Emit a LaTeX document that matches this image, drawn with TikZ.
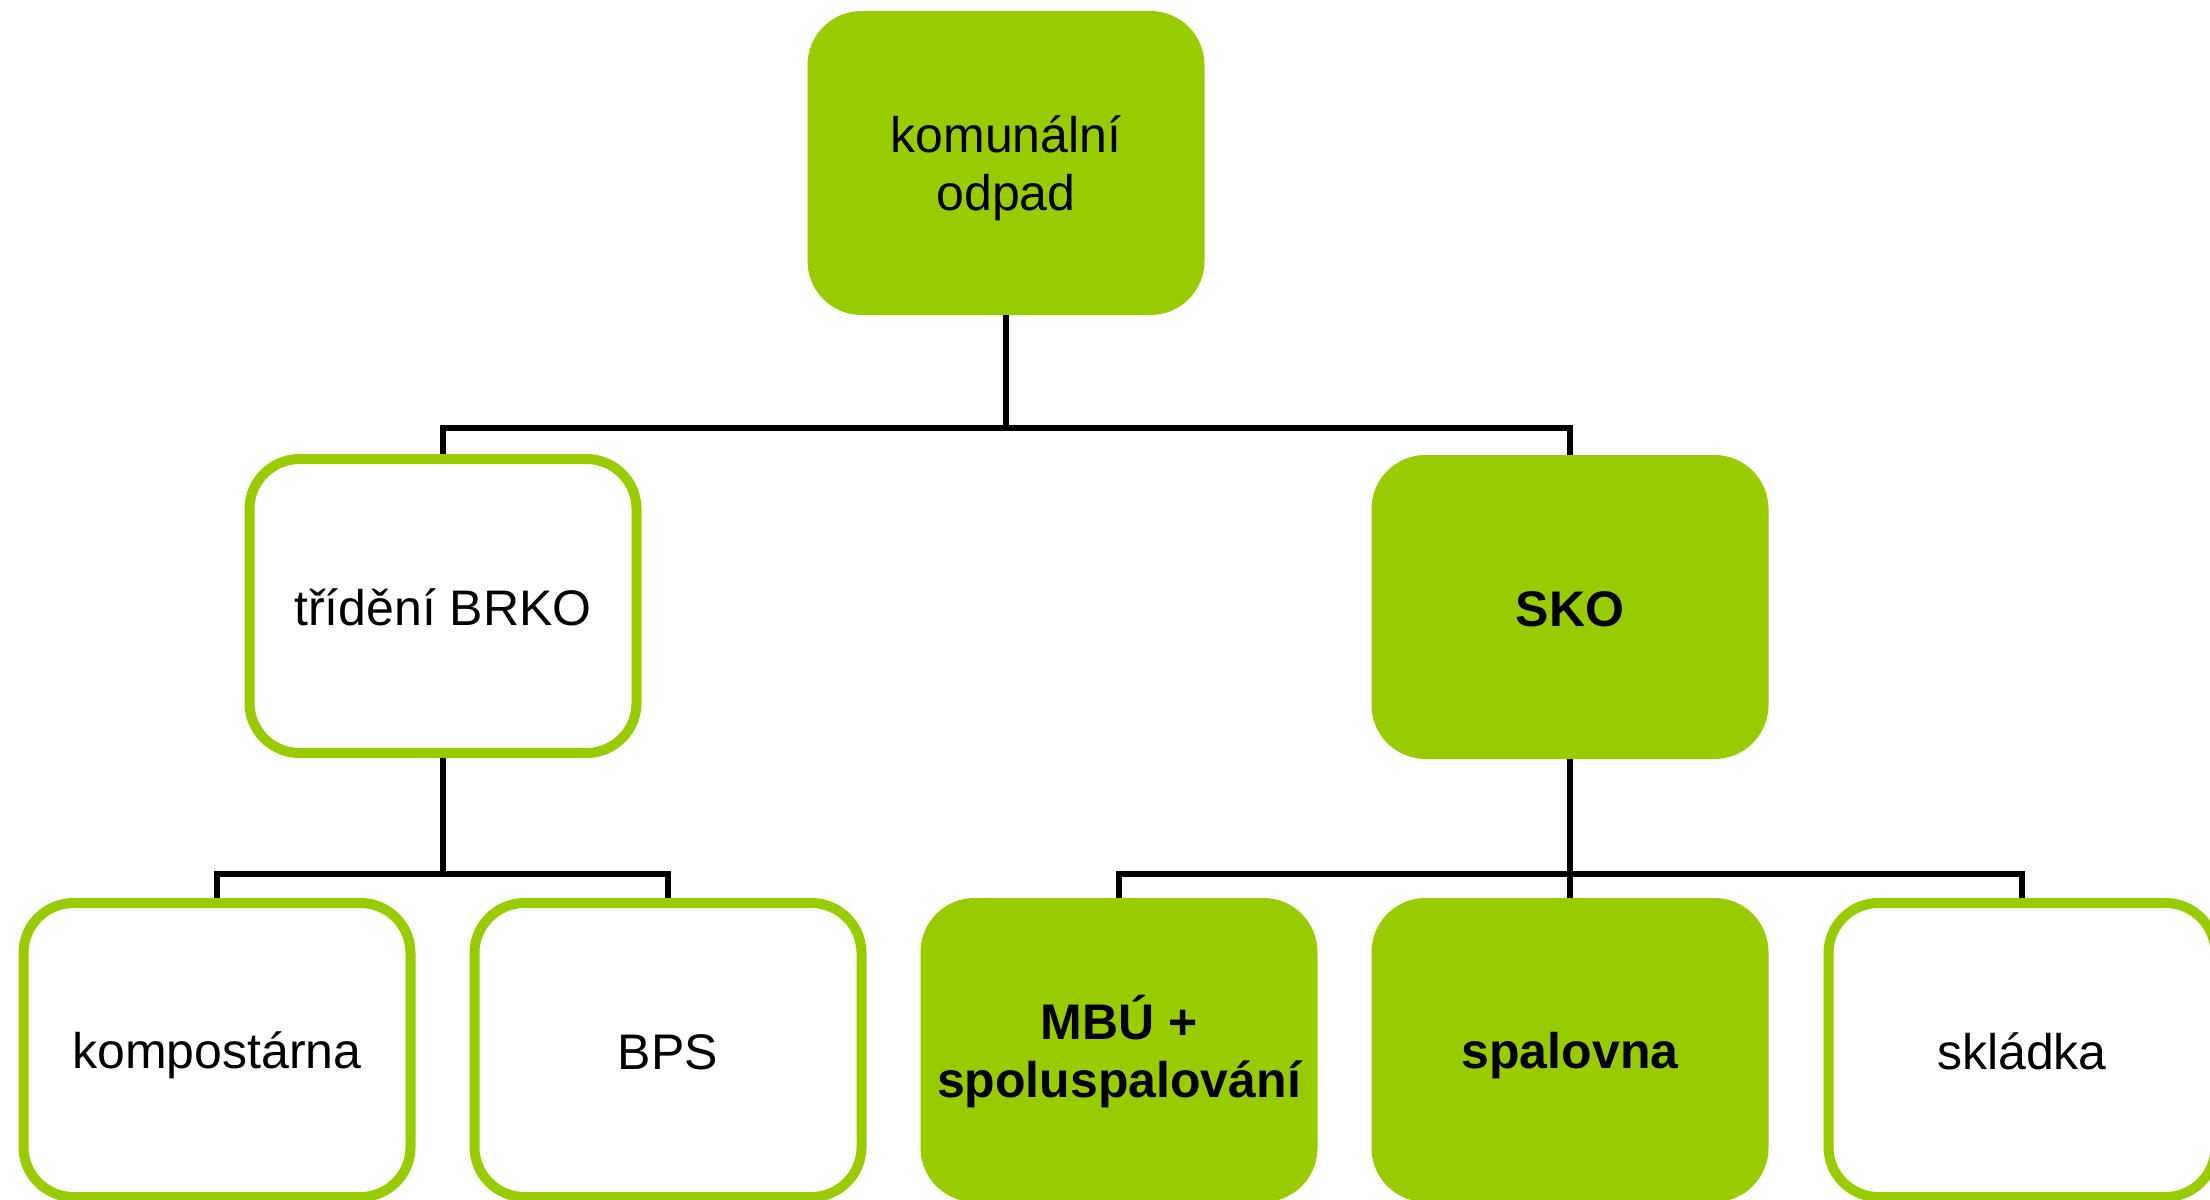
\documentclass[tikz,border=0pt]{standalone}
\usepackage{fontspec}
\setmainfont{Liberation Sans}
\definecolor{lime}{HTML}{99CC00}
\newcommand\mystrut{\rule[-10pt]{0pt}{58pt}}
\tikzset{
  filledbox/.style={rectangle, rounded corners=54pt, fill=lime, draw=none,
    minimum width=397pt, minimum height=304pt, inner sep=0pt, align=center,
    font=\fontsize{50}{58}\selectfont},
  outlinebox/.style={rectangle, rounded corners=50pt, fill=white, draw=lime, line width=10pt,
    minimum width=387pt, minimum height=294pt, inner sep=0pt, align=center,
    font=\fontsize{50}{58}\selectfont},
  conn/.style={draw=black, line width=5.5pt}
}
\begin{document}
\begin{tikzpicture}[x=1pt,y=-1pt]
\useasboundingbox (0,0) rectangle (2210,1199);
\node[filledbox] (top) at (1006,163) {\mystrut komunální\\\mystrut odpad};
\node[outlinebox] (brko) at (443,606) {\mystrut třídění BRKO};
\node[filledbox, font=\fontsize{50}{58}\selectfont\bfseries] (sko) at (1570,607) {\mystrut SKO};
\node[outlinebox] (komp) at (217,1050) {\mystrut kompostárna};
\node[outlinebox] (bps) at (668,1050) {\mystrut BPS};
\node[filledbox, font=\fontsize{50}{58}\selectfont\bfseries] (mbu) at (1119,1050) {\mystrut MBÚ +\\\mystrut spoluspalování};
\node[filledbox, font=\fontsize{50}{58}\selectfont\bfseries] (spal) at (1570,1050) {\mystrut spalovna};
\node[outlinebox] (skl) at (2022,1050) {\mystrut skládka};
\coordinate (bus1) at (1006,428);
\coordinate (bus2) at (443,874);
\coordinate (bus3) at (1570,874);
\draw[conn] (top.south) -- (bus1);
\draw[conn] (brko.north) |- (bus1) -| (sko.north);
\draw[conn] (brko.south) -- (bus2);
\draw[conn] (komp.north) |- (bus2) -| (bps.north);
\draw[conn] (sko.south) -- (spal.north);
\draw[conn] (mbu.north) |- (bus3) -| (skl.north);
\end{tikzpicture}
\end{document}
